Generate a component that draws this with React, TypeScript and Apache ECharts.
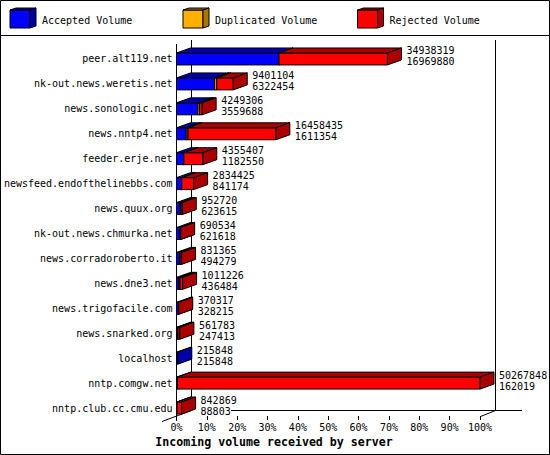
import React, { useEffect, useRef } from 'react';
import * as echarts from 'echarts';

// servers, top to bottom
const servers = [
  'peer.alt119.net',
  'nk-out.news.weretis.net',
  'news.sonologic.net',
  'news.nntp4.net',
  'feeder.erje.net',
  'newsfeed.endofthelinebbs.com',
  'news.quux.org',
  'nk-out.news.chmurka.net',
  'news.corradoroberto.it',
  'news.dne3.net',
  'news.trigofacile.com',
  'news.snarked.org',
  'localhost',
  'nntp.comgw.net',
  'nntp.club.cc.cmu.edu'
];

// volumes printed next to each bar
const totalVolume = [
  34938319, 9401104, 4249306, 16458435, 4355407, 2834425, 952720, 690534,
  831365, 1011226, 370317, 561783, 215848, 50267848, 842869
];
const acceptedVolume = [
  16969880, 6322454, 3559688, 1611354, 1182550, 841174, 623615, 621618,
  494279, 436484, 328215, 247413, 215848, 162019, 88803
];
// estimated from the thin orange slices
const duplicatedVolume = [
  0, 350000, 260000, 300000, 40000, 30000, 120000, 20000,
  100000, 150000, 0, 0, 0, 0, 0
];
const rejectedVolume = totalVolume.map((t, i) => t - acceptedVolume[i] - duplicatedVolume[i]);

const legendNames = ['Accepted Volume', 'Duplicated Volume', 'Rejected Volume'];
const faceColors = ['#0000ff', '#ffb000', '#ff0000'];
const shadeColors = ['#0000aa', '#aa7500', '#aa0000'];

const FONT = '"DejaVu Sans Mono", monospace';
const DX = 14;
const DY = 5;

const maxTotal = Math.max(...totalVolume);
const pct = (v: number) => (v / maxTotal) * 100;

const segmentData = (k: number) => {
  const parts = [acceptedVolume, duplicatedVolume, rejectedVolume];
  return servers.map((_, i) => {
    let start = 0;
    for (let j = 0; j < k; j++) start += parts[j][i];
    return [i, pct(start), pct(start + parts[k][i])];
  });
};

const renderSegment = (k: number) => (params: any, api: any) => {
  const idx = api.value(0);
  const p0 = api.coord([api.value(1), idx]);
  const p1 = api.coord([api.value(2), idx]);
  const x0 = p0[0];
  const x1 = p1[0];
  if (x1 - x0 <= 0.05) return null;
  const h = api.size([0, 1])[1] * 0.48;
  const y0 = p0[1] - h / 2;
  const y1 = p0[1] + h / 2;
  const stroke = { stroke: '#000', lineWidth: 1 };
  return {
    type: 'group',
    children: [
      {
        type: 'rect',
        shape: { x: x0, y: y0, width: x1 - x0, height: y1 - y0 },
        style: { fill: faceColors[k], ...stroke }
      },
      {
        type: 'polygon',
        shape: { points: [[x0, y0], [x0 + DX, y0 - DY], [x1 + DX, y0 - DY], [x1, y0]] },
        style: { fill: shadeColors[k], ...stroke }
      },
      {
        type: 'polygon',
        shape: { points: [[x1, y0], [x1 + DX, y0 - DY], [x1 + DX, y1 - DY], [x1, y1]] },
        style: { fill: shadeColors[k], ...stroke }
      }
    ]
  };
};

const renderLabels = (params: any, api: any) => {
  const idx = api.value(0);
  const p = api.coord([api.value(1), idx]);
  const x = p[0] + DX + 5;
  const txt = (text: string, y: number) => ({
    type: 'text',
    style: {
      text, x, y, fill: '#000', fontSize: 10, fontFamily: FONT,
      align: 'left', verticalAlign: 'middle'
    }
  });
  return {
    type: 'group',
    children: [txt(String(api.value(2)), p[1] - 8), txt(String(api.value(3)), p[1] + 3)]
  };
};

const legendCube = (x: number, k: number) => [
  {
    type: 'rect',
    shape: { x, y: 10, width: 20, height: 18 },
    style: { fill: faceColors[k], stroke: '#000', lineWidth: 1 }
  },
  {
    type: 'polygon',
    shape: { points: [[x, 10], [x + 6, 8], [x + 26, 8], [x + 20, 10]] },
    style: { fill: shadeColors[k], stroke: '#000', lineWidth: 1 }
  },
  {
    type: 'polygon',
    shape: { points: [[x + 20, 10], [x + 26, 8], [x + 26, 26], [x + 20, 28]] },
    style: { fill: shadeColors[k], stroke: '#000', lineWidth: 1 }
  },
  {
    type: 'text',
    style: {
      text: legendNames[k], x: x + 32, y: 20, fill: '#000', fontSize: 10,
      fontFamily: FONT, align: 'left', verticalAlign: 'middle'
    }
  }
];

const line = (x1: number, y1: number, x2: number, y2: number) => ({
  type: 'line',
  shape: { x1, y1, x2, y2 },
  style: { stroke: '#000', lineWidth: 1 },
  z: 0
});

const App: React.FC = () => {
  const chartRef = useRef<HTMLDivElement>(null);

  useEffect(() => {
    if (!chartRef.current) return;
    document.body.style.margin = '0';
    const chart = echarts.init(chartRef.current, null, { renderer: 'svg' });

    const option: any = {
      animation: false,
      backgroundColor: '#fff',
      grid: { left: 176.5, top: 46.5, width: 303.5, height: 374 },
      xAxis: {
        type: 'value',
        min: 0,
        max: 100,
        interval: 10,
        offset: -4.5,
        axisLine: { show: false },
        axisTick: { show: true, length: 4, lineStyle: { color: '#000' } },
        splitLine: { show: false },
        axisLabel: {
          formatter: '{value}%', color: '#000', fontSize: 10, fontFamily: FONT, margin: 6
        }
      },
      yAxis: {
        type: 'category',
        data: servers,
        inverse: true,
        axisLine: { show: true, lineStyle: { color: '#000', width: 1 } },
        axisTick: { show: false },
        splitLine: { show: false },
        axisLabel: { color: '#000', fontSize: 10, fontFamily: FONT, margin: 4 }
      },
      graphic: [
        {
          type: 'rect',
          shape: { x: 0.5, y: 0.5, width: 549, height: 454 },
          style: { fill: 'none', stroke: '#000', lineWidth: 1 }
        },
        line(0, 35.5, 550, 35.5),
        line(176.5, 44, 176.5, 47),
        line(191.5, 40, 191.5, 410.5),
        line(495.5, 40, 495.5, 410.5),
        line(231, 410.5, 522, 410.5),
        line(495.5, 410.5, 480.5, 416.5),
        line(191.5, 410.5, 162, 421.5),
        ...legendCube(10, 0),
        ...legendCube(183, 1),
        ...legendCube(357.5, 2),
        {
          type: 'text',
          style: {
            text: 'Incoming volume received by server', x: 274, y: 442,
            fill: '#000', fontSize: 11.6, fontWeight: 'bold', fontFamily: FONT,
            align: 'center', verticalAlign: 'middle'
          }
        }
      ],
      series: [
        ...[0, 1, 2].map(k => ({
          name: legendNames[k],
          type: 'custom',
          clip: false,
          renderItem: renderSegment(k),
          encode: { x: [1, 2], y: 0 },
          data: segmentData(k)
        })),
        {
          name: 'labels',
          type: 'custom',
          clip: false,
          renderItem: renderLabels,
          encode: { x: 1, y: 0 },
          data: servers.map((_, i) => [i, pct(totalVolume[i]), totalVolume[i], acceptedVolume[i]])
        }
      ]
    };

    chart.setOption(option);
    return () => chart.dispose();
  }, []);

  return <div ref={chartRef} style={{ width: 550, height: 455 }} />;
};

export default App;
